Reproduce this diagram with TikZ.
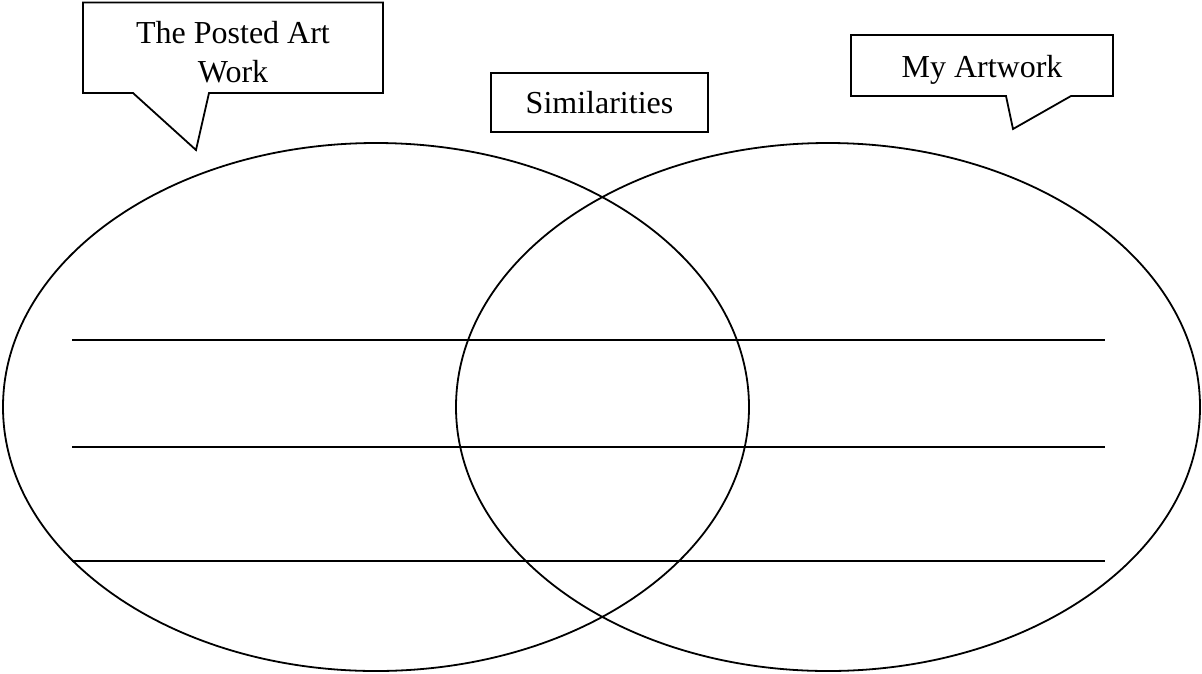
\documentclass[tikz,border=0pt]{standalone}
\usepackage{fontspec}
\setmainfont{Liberation Serif}
\begin{document}
\begin{tikzpicture}[x=1pt,y=-1pt,line width=1.8pt,line join=miter,
  lbl/.style={font=\fontsize{32}{39}\selectfont,align=center,inner sep=0pt},
  simbox/.style={lbl,draw,minimum width=217pt,minimum height=59pt},
  writeline/.style={line width=1.8pt},
  venn/.style={line width=1.8pt}]
\useasboundingbox (0,0) rectangle (1202,673);
% write-on lines
\foreach \yy/\nm in {340/a,447/b,561/c}{
  \coordinate (l\nm) at (72,\yy);
  \coordinate (r\nm) at (1105,\yy);
  \draw[writeline] (l\nm) -- (r\nm);
}
% Venn circles
\draw[venn] (376,407) ellipse [x radius=373pt, y radius=264pt];
\draw[venn] (828,407) ellipse [x radius=372pt, y radius=264pt];
% left callout
\draw (83,2.5) -- (383,2.5) -- (383,93) -- (209,93) -- (196,150) -- (133,93) -- (83,93) -- cycle;
\node[lbl] (posted) at (233,52) {The Posted Art\\Work};
% similarities
\node[simbox] (sim) at (599.5,102.5) {Similarities};
% right callout
\draw (851,35) -- (1113,35) -- (1113,96) -- (1071,96) -- (1013,129) -- (1006,96) -- (851,96) -- cycle;
\node[lbl,anchor=base] (mine) at (982,77) {My Artwork};
\end{tikzpicture}
\end{document}
